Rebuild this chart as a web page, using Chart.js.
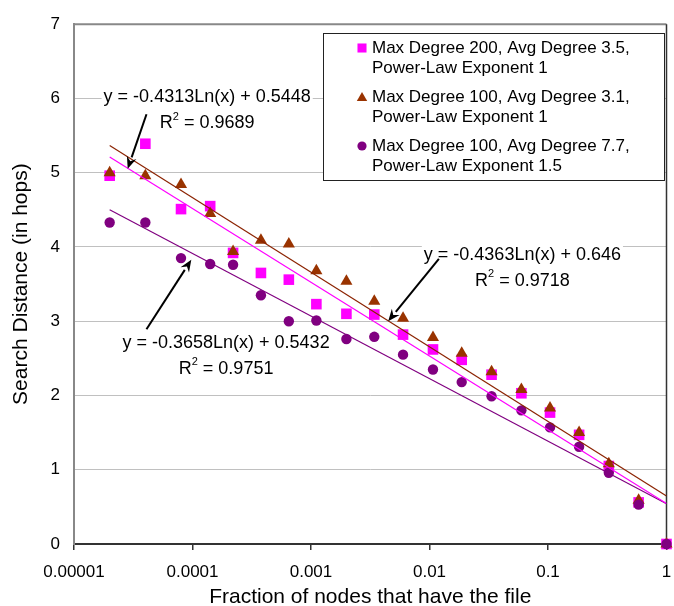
<!DOCTYPE html>
<html>
<head>
<meta charset="utf-8">
<script src="https://cdn.jsdelivr.net/npm/chart.js@4.4.1/dist/chart.umd.min.js"></script>
<style>
  html, body { margin: 0; padding: 0; background: #fff; }
  #wrap { width: 674px; height: 606px; }
</style>
</head>
<body>
<div id="wrap"><canvas id="c" width="674" height="606"></canvas></div>
<script>
// Fraction of nodes holding the file (x) and mean search distance in hops (y)
const fractions = [2e-5, 4e-5, 8e-5, 1.41e-4, 2.2e-4, 3.78e-4, 6.5e-4, 1.11e-3, 1.99e-3, 3.42e-3,
                   5.98e-3, 1.07e-2, 1.87e-2, 3.34e-2, 5.96e-2, 0.104, 0.183, 0.326, 0.582, 1];
const hopsMax200Avg35 = [4.96, 5.39, 4.51, 4.55, 3.92, 3.65, 3.56, 3.23, 3.10, 3.09,
                         2.82, 2.62, 2.48, 2.28, 2.03, 1.77, 1.47, 1.05, 0.56, 0];
const hopsMax100Avg31 = [5.00, 4.96, 4.84, 4.45, 3.94, 4.09, 4.04, 3.68, 3.54, 3.27,
                         3.04, 2.78, 2.57, 2.32, 2.08, 1.83, 1.50, 1.08, 0.59, 0];
const hopsMax100Avg77 = [4.33, 4.33, 3.85, 3.77, 3.76, 3.35, 3.00, 3.01, 2.76, 2.79,
                         2.55, 2.35, 2.18, 1.99, 1.80, 1.57, 1.31, 0.96, 0.53, 0];

const seriesNames = [
  ['Max Degree 200, Avg Degree 3.5,', 'Power-Law Exponent 1'],
  ['Max Degree 100, Avg Degree 3.1,', 'Power-Law Exponent 1'],
  ['Max Degree 100, Avg Degree 7.7,', 'Power-Law Exponent 1.5']
];

// Logarithmic fits y = a*Ln(x) + b
const fitSlopes = [-0.4313, -0.4363, -0.3658];
const fitIntercepts = [0.5448, 0.646, 0.5432];
const fitR2 = ['0.9689', '0.9718', '0.9751'];

const xTickValues = [1e-5, 1e-4, 1e-3, 1e-2, 1e-1, 1];
const xTickLabels = ['0.00001', '0.0001', '0.001', '0.01', '0.1', '1'];

const FONT = "'Liberation Sans', Arial, Helvetica, sans-serif";
const colors = ['#FF00FF', '#993300', '#800080'];
const lineColors = ['#FF00FF', '#8B2200', '#800080'];
const styles = ['rect', 'triangle', 'circle'];
const radii = [7.5, 7, 5.2];

const seriesValues = [hopsMax200Avg35, hopsMax100Avg31, hopsMax100Avg77];

function fitValue(i, x) { return fitSlopes[i] * Math.log(x) + fitIntercepts[i]; }

const datasets = [];
seriesValues.forEach((vals, i) => {
  datasets.push({
    label: seriesNames[i].join(' '),
    data: fractions.map((x, k) => ({ x: x, y: vals[k] })),
    pointStyle: styles[i],
    pointRadius: radii[i],
    pointHoverRadius: radii[i],
    backgroundColor: colors[i],
    borderColor: colors[i],
    borderWidth: 0,
    showLine: false,
    clip: false,
    order: 3 - i
  });
});
seriesValues.forEach((vals, i) => {
  const x0 = fractions[0], x1 = fractions[fractions.length - 1];
  datasets.push({
    label: 'fit' + i,
    data: [{ x: x0, y: fitValue(i, x0) }, { x: x1, y: fitValue(i, x1) }],
    showLine: true,
    pointRadius: 0,
    borderColor: lineColors[i],
    borderWidth: 1.2,
    fill: false,
    order: 0
  });
});

// Equation labels with arrows, anchored in data coordinates
const fitNotes = [
  { fit: 0, tx: 1.33e-4, ty: 6.013, tail: [4.09e-5, 5.787], head: [2.84e-5, 5.053] },
  { fit: 2, tx: 1.92e-4, ty: 2.707, tail: [4.09e-5, 2.893], head: [9.77e-5, 3.827] },
  { fit: 1, tx: 0.0608, ty: 3.893, tail: [0.0120, 3.84], head: [4.48e-3, 3.0] }
];

function fmt(v) { return (v < 0 ? '-' : '') + Math.abs(v).toString(); }

const plotFrame = {
  id: 'plotFrame',
  beforeDatasetsDraw(chart) {
    const { ctx, chartArea: a } = chart;
    ctx.save();
    ctx.strokeStyle = '#888';
    ctx.lineWidth = 2;
    ctx.beginPath();
    ctx.moveTo(a.left, a.top);
    ctx.lineTo(a.right, a.top);
    ctx.stroke();
    ctx.strokeStyle = '#333';
    ctx.lineWidth = 1.5;
    ctx.beginPath();
    ctx.moveTo(a.right, a.top);
    ctx.lineTo(a.right, a.bottom);
    ctx.stroke();
    ctx.restore();
  }
};

const notes = {
  id: 'notes',
  afterDatasetsDraw(chart) {
    const { ctx, scales: { x: sx, y: sy } } = chart;
    ctx.save();
    fitNotes.forEach(n => {
      const i = n.fit;
      const cx = sx.getPixelForValue(n.tx), cy = sy.getPixelForValue(n.ty);
      const eq = 'y = ' + fmt(fitSlopes[i]) + 'Ln(x) + ' + fitIntercepts[i];
      ctx.font = '18px ' + FONT;
      const w = ctx.measureText(eq).width;
      ctx.fillStyle = '#fff';
      ctx.fillRect(cx - w / 2 - 2, cy - 11, w + 4, 22);
      ctx.fillStyle = '#000';
      ctx.textBaseline = 'middle';
      ctx.textAlign = 'left';
      ctx.fillText(eq, cx - w / 2, cy);
      // R² line
      const ry = cy + 26;
      ctx.font = '18px ' + FONT;
      const wR = ctx.measureText('R').width;
      const rest = ' = ' + fitR2[i];
      const wRest = ctx.measureText(rest).width;
      ctx.font = '11px ' + FONT;
      const wSup = ctx.measureText('2').width;
      const total = wR + wSup + wRest;
      let x0 = cx - total / 2;
      ctx.font = '18px ' + FONT;
      ctx.fillText('R', x0, ry);
      ctx.font = '11px ' + FONT;
      ctx.fillText('2', x0 + wR, ry - 7);
      ctx.font = '18px ' + FONT;
      ctx.fillText(rest, x0 + wR + wSup, ry);
      // arrow
      const tx = sx.getPixelForValue(n.tail[0]), ty = sy.getPixelForValue(n.tail[1]);
      const hx = sx.getPixelForValue(n.head[0]), hy = sy.getPixelForValue(n.head[1]);
      const ang = Math.atan2(hy - ty, hx - tx);
      const L = 12, W = 5;
      const bx = hx - L * Math.cos(ang), by = hy - L * Math.sin(ang);
      ctx.strokeStyle = '#000';
      ctx.lineWidth = 2;
      ctx.beginPath();
      ctx.moveTo(tx, ty);
      ctx.lineTo(bx, by);
      ctx.stroke();
      ctx.beginPath();
      ctx.moveTo(hx, hy);
      ctx.lineTo(bx + W * Math.sin(ang), by - W * Math.cos(ang));
      ctx.lineTo(hx - (L - 4) * Math.cos(ang), hy - (L - 4) * Math.sin(ang));
      ctx.lineTo(bx - W * Math.sin(ang), by + W * Math.cos(ang));
      ctx.closePath();
      ctx.fillStyle = '#000';
      ctx.fill();
    });
    ctx.restore();
  }
};

function marker(ctx, style, x, y, r, color) {
  ctx.fillStyle = color;
  ctx.beginPath();
  if (style === 'rect') {
    const s = r * Math.SQRT1_2;
    ctx.rect(x - s, y - s, 2 * s, 2 * s);
  } else if (style === 'triangle') {
    ctx.moveTo(x, y - r);
    ctx.lineTo(x + r * Math.sin(Math.PI * 2 / 3), y - r * Math.cos(Math.PI * 2 / 3));
    ctx.lineTo(x + r * Math.sin(Math.PI * 4 / 3), y - r * Math.cos(Math.PI * 4 / 3));
    ctx.closePath();
  } else {
    ctx.arc(x, y, r, 0, Math.PI * 2);
  }
  ctx.fill();
}

const boxLegend = {
  id: 'boxLegend',
  afterDraw(chart) {
    const { ctx } = chart;
    const left = 323, top = 33, w = 341, h = 147;
    ctx.save();
    ctx.fillStyle = '#fff';
    ctx.fillRect(left, top, w, h);
    ctx.strokeStyle = '#222';
    ctx.lineWidth = 1;
    ctx.strokeRect(left + 0.5, top + 0.5, w, h);
    const legR = [6.4, 6, 4.6];
    const rows = [48, 97, 146];
    ctx.font = '17px ' + FONT;
    ctx.textBaseline = 'middle';
    ctx.textAlign = 'left';
    seriesNames.forEach((lines, i) => {
      marker(ctx, styles[i], 362, rows[i] + (i === 1 ? 1 : 0), legR[i], colors[i]);
      ctx.fillStyle = '#000';
      lines.forEach((t, j) => ctx.fillText(t, 372, rows[i] + j * 20.5));
    });
    ctx.restore();
  }
};

new Chart(document.getElementById('c'), {
  type: 'scatter',
  data: { datasets },
  options: {
    responsive: false,
    animation: false,
    devicePixelRatio: 1,
    layout: { padding: { top: 19, right: 4, left: 0, bottom: 0 } },
    plugins: { legend: { display: false }, tooltip: { enabled: false } },
    scales: {
      x: {
        type: 'logarithmic',
        position: 'bottom',
        min: 1e-5,
        max: 1,
        afterBuildTicks(s) { s.ticks = xTickValues.map(v => ({ value: v })); },
        afterFit(s) { s.height = 62; s.paddingLeft = 0; s.paddingRight = 0; },
        ticks: {
          autoSkip: false,
          maxRotation: 0,
          padding: 12,
          color: '#000',
          font: { family: FONT, size: 17 },
          callback: (v, idx) => xTickLabels[idx]
        },
        grid: { drawOnChartArea: false, drawTicks: true, tickLength: 6, color: '#333', lineWidth: 1.5 },
        border: { display: true, color: '#333', width: 2 },
        title: {
          display: true,
          text: 'Fraction of nodes that have the file',
          color: '#000',
          font: { family: FONT, size: 21, lineHeight: 0.85 },
          padding: { top: 0, bottom: 0 }
        }
      },
      y: {
        type: 'linear',
        position: 'left',
        min: 0,
        max: 7,
        afterFit(s) { s.width = 74; },
        ticks: {
          stepSize: 1,
          padding: 14,
          color: '#000',
          font: { family: FONT, size: 17 }
        },
        grid: { color: '#c0c0c0', lineWidth: 1, drawTicks: false },
        border: { display: true, color: '#888', width: 2 },
        title: {
          display: true,
          text: 'Search Distance (in hops)',
          color: '#000',
          font: { family: FONT, size: 21, lineHeight: 1.2 },
          padding: { top: 9, bottom: 0 }
        }
      }
    }
  },
  plugins: [plotFrame, notes, boxLegend]
});
</script>
</body>
</html>
